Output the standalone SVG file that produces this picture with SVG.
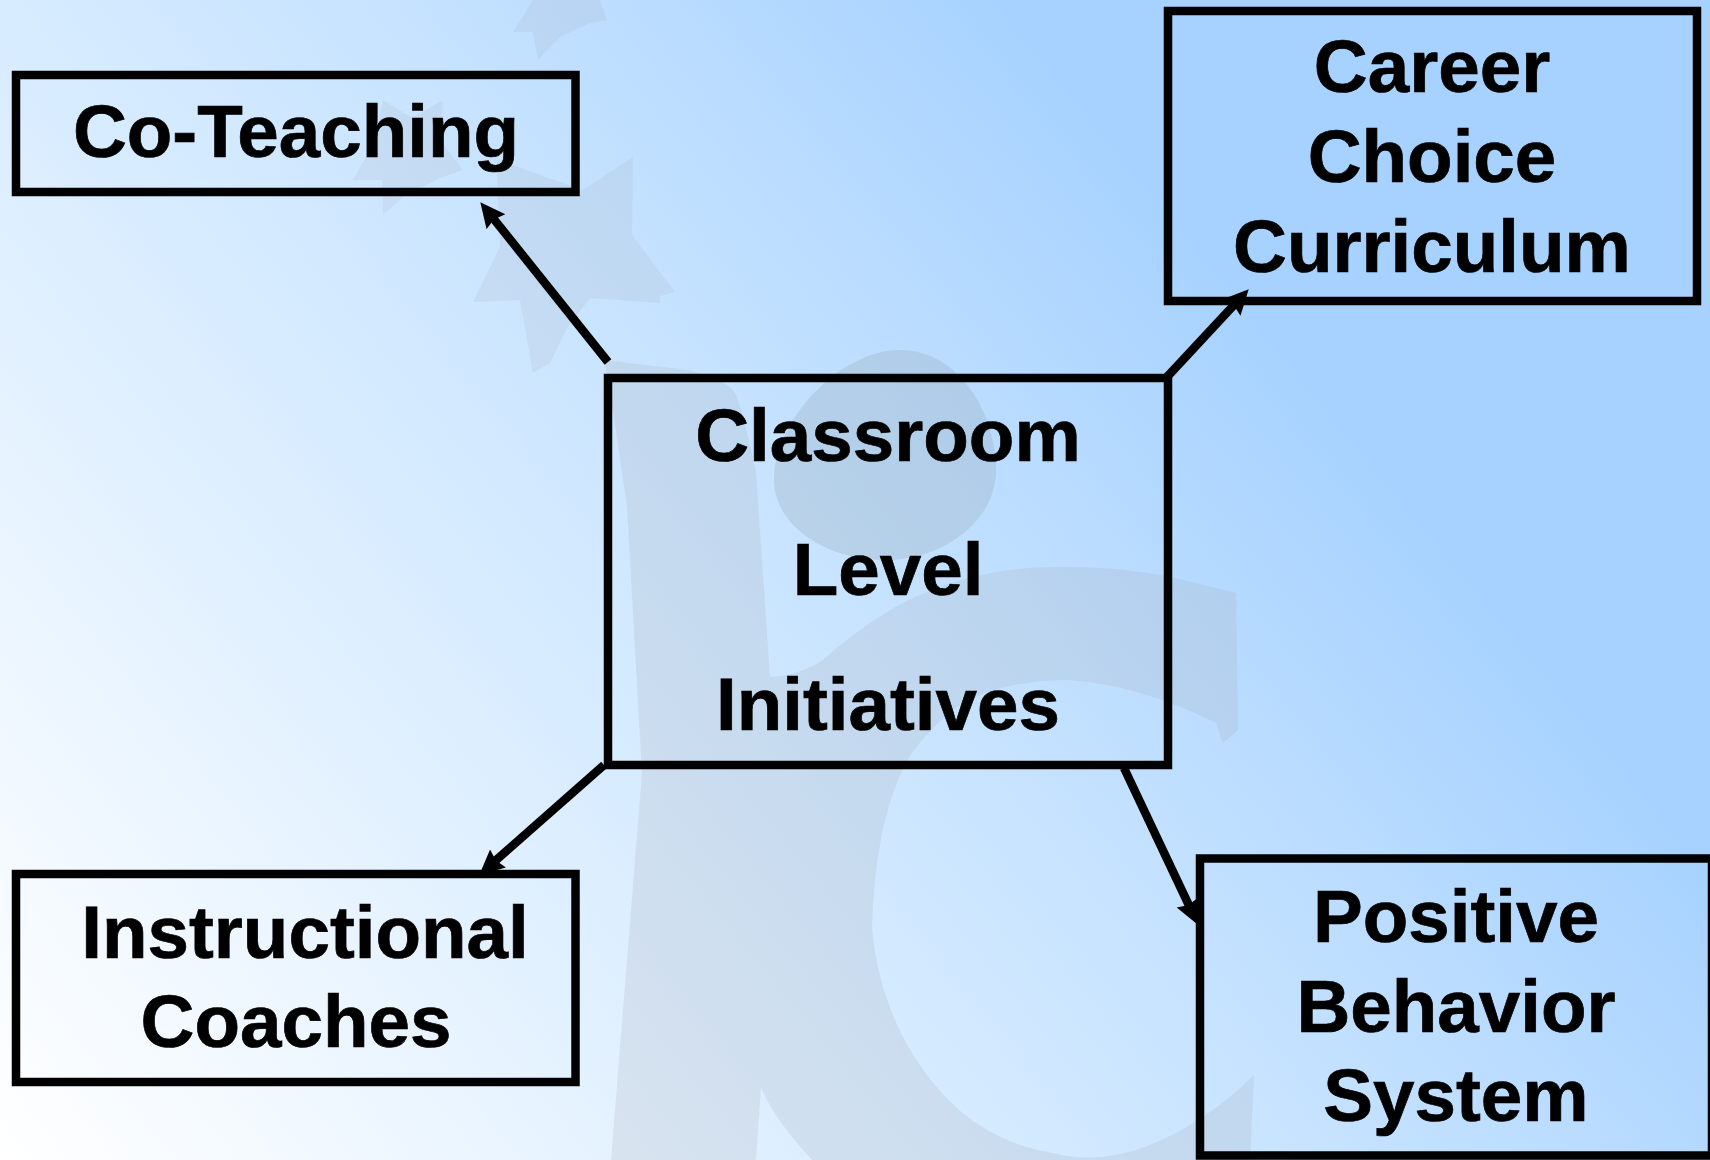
<svg xmlns="http://www.w3.org/2000/svg" width="1710" height="1160" viewBox="0 0 1710 1160">
<style>
.box{fill:none;stroke:#000;stroke-width:8.5}
.lbl{font-family:"Liberation Sans",Arial,sans-serif;font-weight:700;font-size:74.6px;fill:#000;stroke:#000;stroke-width:.7;text-anchor:middle}
.conn{fill:none;stroke:#000;stroke-width:8.5}
.wm{fill:#a9acb8;fill-opacity:.22}
.wm3{fill:#a9acb8;fill-opacity:.17}
.wm2{fill:#94a7b0;fill-opacity:.28}
</style>
<defs>
<linearGradient id="bg" gradientUnits="userSpaceOnUse" x1="0" y1="1160" x2="1167" y2="205">
<stop offset="0" stop-color="#ffffff"/>
<stop offset=".55" stop-color="#d2e9ff"/>
<stop offset=".8" stop-color="#bcddff"/>
<stop offset="1" stop-color="#a7d2ff"/>
</linearGradient>
<marker id="arr" markerUnits="userSpaceOnUse" markerWidth="28" markerHeight="26" refX="10" refY="13" orient="auto">
<path d="M0 1L25 13L0 25L3 13Z" fill="#000"/>
</marker>
</defs>
<rect width="1710" height="1160" fill="url(#bg)"/>
<g id="watermark">
<path class="wm3" d="M497 160L583 190L633 157L632 235L675 292L660 296L660 303L590 298L567 328L550 363L533 373L520 300L473 302L500 247L498 200Z"/>
<path class="wm3" d="M383 100L412 118L443 100L440 140L463 170L440 178L403 197L383 215L382 180L353 180L375 140Z"/>
<path class="wm3" d="M513 32L533 0L600 0L607 20L590 23L560 37L538 60L533 32Z"/>
<path class="wm2" d="M900 350C960 350 996 415 996 470C996 520 945 560 885 560C825 560 774 525 774 480C774 420 840 350 900 350Z"/>
<path class="wm" d="M604 360L687 370Q730 380 736 395Q745 420 756 473L770 677Q800 675 823 660Q850 635 890 610Q960 570 1046 567Q1110 565 1171 577L1236 593L1238 730L1223 743L1216 723Q1140 685 1069 680Q1000 680 957 707Q915 740 901 773Q875 830 872 927Q875 970 892 1013Q915 1070 959 1110Q1000 1145 1053 1153Q1100 1165 1150 1145Q1205 1123 1254 1075L1250 1160L812 1160Q775 1120 761 1088L756 1160L611 1160L642 773L627 507L609 383Z"/>
</g>
<g id="connectors">
<line class="conn" x1="608" y1="362" x2="489.7" y2="213.9" marker-end="url(#arr)"/>
<line class="conn" x1="1167" y1="377" x2="1238.5" y2="300.2" marker-end="url(#arr)"/>
<line class="conn" x1="604" y1="765" x2="490.5" y2="865" marker-end="url(#arr)"/>
<line class="conn" x1="1124" y1="768" x2="1191.8" y2="911.4" marker-end="url(#arr)"/>
</g>
<g id="co-teaching"><rect class="box" x="16" y="75" width="559.5" height="117"/>
<text class="lbl" x="296" y="157">Co-Teaching</text></g>
<g id="career-choice"><rect class="box" x="1168" y="11" width="529" height="290"/>
<text class="lbl" x="1432" y="92">Career</text><text class="lbl" x="1432" y="182">Choice</text><text class="lbl" x="1432" y="272">Curriculum</text></g>
<g id="classroom-level"><rect class="box" x="608" y="378" width="560" height="387"/>
<text class="lbl" x="888" y="461">Classroom</text><text class="lbl" x="888" y="595">Level</text><text class="lbl" x="888" y="730">Initiatives</text></g>
<g id="instructional-coaches"><rect class="box" x="16" y="874" width="559.5" height="208"/>
<text class="lbl" x="305" y="958">Instructional</text><text class="lbl" x="296" y="1047">Coaches</text></g>
<g id="positive-behavior"><rect class="box" x="1200" y="858.5" width="512" height="297"/>
<text class="lbl" x="1456" y="942">Positive</text><text class="lbl" x="1456" y="1032">Behavior</text><text class="lbl" x="1456" y="1121">System</text></g>
</svg>
